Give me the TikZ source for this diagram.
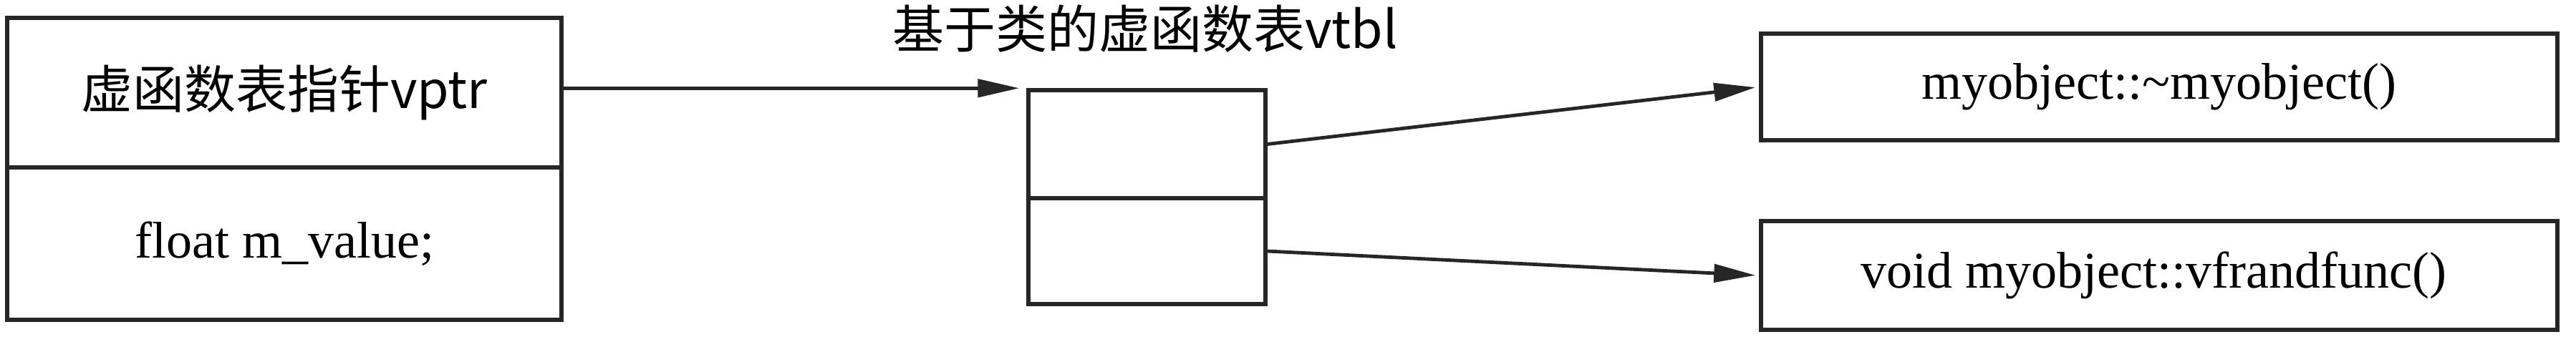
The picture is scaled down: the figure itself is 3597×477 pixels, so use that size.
\documentclass[tikz,border=0pt]{standalone}
\usepackage{fontspec}
\setmainfont{Liberation Serif}
\newfontfamily\cjk{Noto Sans CJK SC}
\usetikzlibrary{arrows.meta}
\begin{document}
\begin{tikzpicture}[x=1pt,y=1pt,
  cell/.style={draw=black!85,line width=5.5pt,rectangle,inner sep=0pt,font=\fontsize{72}{86}\selectfont},
  arr/.style={draw=black!85,line width=4.8pt,shorten >=5pt,-{Triangle[length=58pt,width=25pt]}},
  lbl/.style={inner sep=0pt,font=\fontsize{72}{86}\selectfont\cjk}]
\useasboundingbox[fill=white] (0,0) rectangle (3597,-477);
% left object
\node[cell,minimum width=774pt,minimum height=209pt,font=\fontsize{72}{86}\selectfont\cjk] (vptr) at (397,-129.5) {虚函数表指针vptr};
\node[cell,minimum width=774pt,minimum height=213pt] (mval) at (397,-340.5) {float m\_value;};
% vtbl
\node[cell,minimum width=331pt,minimum height=151pt] (vt1) at (1601.5,-201.5) {};
\node[cell,minimum width=331pt,minimum height=148pt] (vt2) at (1601.5,-351) {};
\node[lbl] (vtlabel) at (1599,-40) {基于类的虚函数表vtbl};
% functions
\node[cell,minimum width=1112pt,minimum height=149pt] (f1) at (3015,-121.5) {myobject::\textasciitilde myobject()};
\node[cell,minimum width=1112pt,minimum height=152pt] (f2) at (3015,-385) {void myobject::vfrandfunc()\hspace*{16pt}};
% connectors
\draw[arr,shorten >=10pt] (vptr.east |- vt1.north west) -- (vt1.north west);
\draw[arr] (vt1.east) -- (f1.west);
\draw[arr] (vt2.east) -- (f2.west);
\end{tikzpicture}
\end{document}
